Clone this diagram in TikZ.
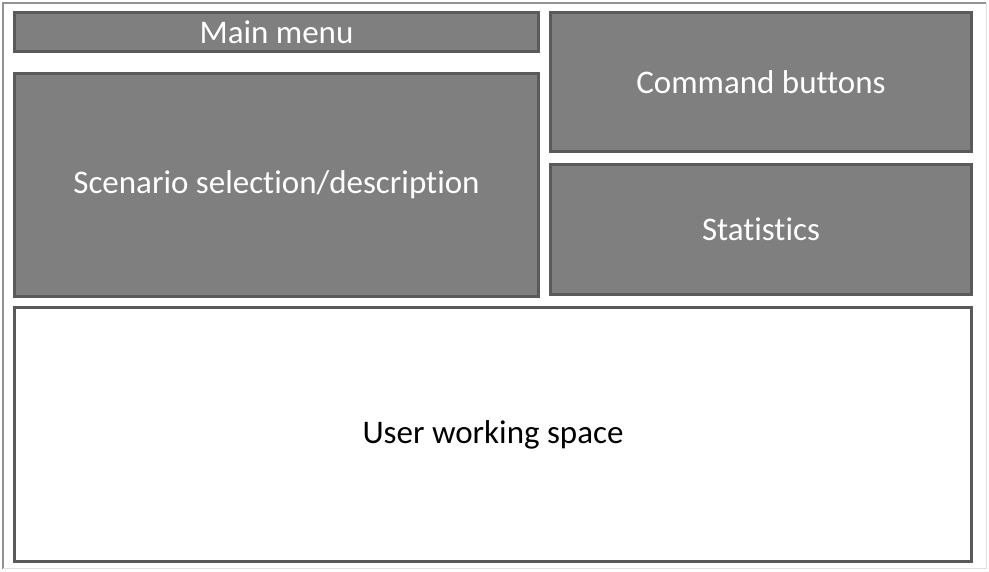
\documentclass[tikz,border=0pt]{standalone}
\usepackage{fontspec}
\setmainfont[Ligatures=NoCommon]{Carlito}
\definecolor{panelfill}{HTML}{7F7F7F}
\definecolor{paneledge}{HTML}{5A5A5A}

\begin{document}
\begin{tikzpicture}[x=1pt, y=-1pt,
		panel/.style={draw=paneledge, line width=3pt, fill=panelfill, text=white, inner sep=0pt, font=\fontsize{33}{39}\selectfont},
		workspace/.style={panel, fill=white, text=black}]
				
				\useasboundingbox (0,0) rectangle (989,571);
				
				% screen frame, left and top darker than the rest
				\draw[gray!85, line width=2pt] (3,569) -- (3,3) -- (986,3);
				\draw[gray!25, line width=1pt] (986,3) -- (986,568) -- (3,568);
				
				\node[panel, minimum width=524pt, minimum height=39pt] (menu) at (276.5,32) {Main menu};
				
				\node[panel, minimum width=524pt, minimum height=223pt] (scenario) at (276.5,185) {Scenario selection/description};
				
				\node[panel, minimum width=421pt, minimum height=139pt] (commands) at (761,82) {Command buttons};
				
				\node[panel, minimum width=421pt, minimum height=130pt] (stats) at (761,229.5) {Statistics};
				
				\node[workspace, minimum width=957pt, minimum height=254pt] (work) at (493,434.5) {User working space};
				
				\end{tikzpicture}
\end{document}
